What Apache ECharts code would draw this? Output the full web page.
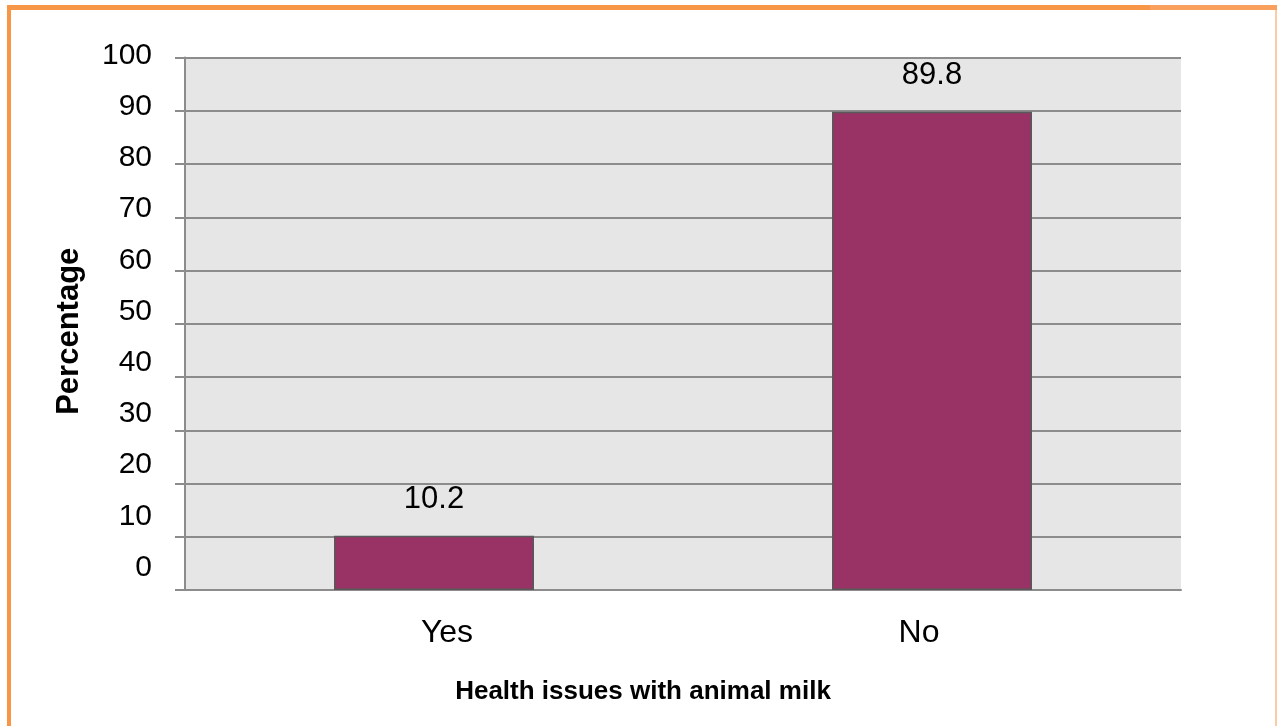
<!DOCTYPE html>
<html>
<head>
<meta charset="utf-8">
<style>
  html, body { margin: 0; padding: 0; background: #ffffff; }
  #chart { width: 1277px; height: 726px; }
</style>
<script src="https://cdn.jsdelivr.net/npm/echarts@6/dist/echarts.min.js"></script>
</head>
<body>
<div id="chart"></div>
<script>
// Survey answers and their shares
const categories = ['Yes', 'No'];
const percentages = [10.2, 89.8];
const yTickValues = [0, 10, 20, 30, 40, 50, 60, 70, 80, 90, 100];

const FONT = '"Liberation Sans", Arial, sans-serif';
const chart = echarts.init(document.getElementById('chart'), null, { renderer: 'canvas' });

chart.setOption({
  animation: false,
  backgroundColor: '#ffffff',
  graphic: [
    // orange page frame
    { type: 'rect', shape: { x: 7, y: 5, width: 4, height: 730 }, style: { fill: '#f79646' }, silent: true },
    { type: 'rect', shape: { x: 7, y: 5, width: 1143, height: 5 }, style: { fill: '#f79646' }, silent: true },
    { type: 'rect', shape: { x: 1150, y: 5, width: 127, height: 5 }, style: { fill: '#f8a05c' }, silent: true },
    { type: 'rect', shape: { x: 1275, y: 10, width: 2, height: 720 }, style: { fill: '#fbcba3' }, silent: true }
  ],
  grid: [
    {
      left: 185, right: 96, top: 57.5, bottom: 136,
      show: true, backgroundColor: '#e6e6e6', borderWidth: 0
    },
    // column holding the percentage tick labels
    { left: 160, width: 1, top: 55.5, height: 512, show: false }
  ],
  xAxis: [
    {
      gridIndex: 0,
      type: 'category',
      data: categories,
      name: 'Health issues with animal milk',
      nameLocation: 'middle',
      nameGap: 89,
      nameTextStyle: {
        fontFamily: FONT, fontSize: 26, fontWeight: 'bold', color: '#000',
        padding: [0, 80, 0, 0]
      },
      axisLine: { show: true, lineStyle: { color: '#8c8c8c', width: 2 } },
      axisTick: { show: false },
      axisLabel: {
        margin: 27,
        fontFamily: FONT, fontSize: 32, color: '#000',
        formatter: function (v, i) { return i === 0 ? '{l|' + v + '}' : '{r|' + v + '}'; },
        rich: {
          l: { fontFamily: FONT, fontSize: 32, color: '#000', padding: [0, 0, 0, 26] },
          r: { fontFamily: FONT, fontSize: 32, color: '#000', padding: [0, 26, 0, 0] }
        }
      },
      splitLine: { show: false }
    },
    { gridIndex: 1, type: 'value', show: false, min: 0, max: 1 }
  ],
  yAxis: [
    {
      gridIndex: 0,
      type: 'value',
      min: 0, max: 100, interval: 10,
      name: 'Percentage',
      nameLocation: 'middle',
      nameGap: 100,
      nameRotate: 90,
      nameTextStyle: { fontFamily: FONT, fontSize: 31, fontWeight: 'bold', color: '#000', padding: [0, 15, 0, 0] },
      axisLine: { show: true, lineStyle: { color: '#8c8c8c', width: 2 } },
      axisTick: { show: true, inside: false, length: 10, lineStyle: { color: '#8c8c8c', width: 2 } },
      axisLabel: { show: false },
      splitLine: { show: true, lineStyle: { color: '#8c8c8c', width: 2 } }
    },
    {
      gridIndex: 1,
      type: 'value',
      min: yTickValues[0], max: yTickValues[yTickValues.length - 1], interval: 10,
      axisLine: { show: false },
      axisTick: { show: false },
      splitLine: { show: false },
      axisLabel: { margin: 8, fontFamily: FONT, fontSize: 30, color: '#000' }
    }
  ],
  series: [
    {
      type: 'bar',
      xAxisIndex: 0,
      yAxisIndex: 0,
      data: percentages,
      barWidth: 200,
      itemStyle: { color: '#993366', borderColor: '#595959', borderWidth: 1.5 },
      label: {
        show: true,
        position: 'top',
        distance: 21,
        fontFamily: FONT,
        fontSize: 31,
        color: '#000'
      }
    }
  ]
});
</script>
</body>
</html>
